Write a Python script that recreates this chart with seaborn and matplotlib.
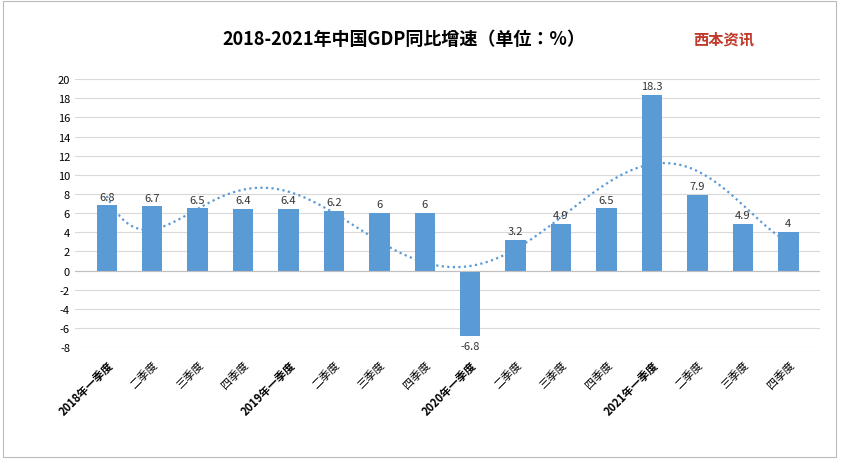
import numpy as np
import pandas as pd
import matplotlib
matplotlib.use("Agg")
import matplotlib.pyplot as plt
import seaborn as sns

plt.rcParams['font.family'] = ['Noto Sans CJK JP', 'Noto Sans CJK SC', 'DejaVu Sans']
plt.rcParams['axes.unicode_minus'] = False

labels = ["2018年一季度","二季度","三季度","四季度","2019年一季度","二季度","三季度","四季度",
          "2020年一季度","二季度","三季度","四季度","2021年一季度","二季度","三季度","四季度"]
values = [6.8,6.7,6.5,6.4,6.4,6.2,6,6,-6.8,3.2,4.9,6.5,18.3,7.9,4.9,4]
value_labels = ["6.8","6.7","6.5","6.4","6.4","6.2","6","6","-6.8","3.2","4.9","6.5","18.3","7.9","4.9","4"]

df = pd.DataFrame({"q": labels, "v": values, "i": range(len(labels))})

fig = plt.figure(figsize=(8.42, 4.6), dpi=100)
fig.patches.append(plt.Rectangle((0.003,0.005),0.99,0.99,transform=fig.transFigure,fill=False,ec="#bbbbbb",lw=0.8))
ax = fig.add_axes([0.089, 0.243, 0.885, 0.583])
sns.barplot(data=df, x="i", y="v", color="#5B9BD5", width=0.45, ax=ax, saturation=1)

x = np.arange(len(values))
coef = np.polyfit(x, values, 6)
xs = np.linspace(0, len(values)-1, 300)
ax.plot(xs, np.polyval(coef, xs), ls=(0,(1,1.5)), color="#5B9BD5", lw=1.6)

for i, (v, t) in enumerate(zip(values, value_labels)):
    ax.text(i, v + (0.4 if v >= 0 else -0.5), t, ha="center", va="bottom" if v >= 0 else "top", fontsize=8, color="#333333")

ax.set_ylim(-8, 20)
ax.set_yticks(range(-8, 21, 2))
ax.set_xlim(-0.7, len(values)-0.3)
ax.set_xticks(x)
ax.set_xticklabels(labels, rotation=45, ha="right", rotation_mode="anchor", fontsize=8)
for tl in ax.get_xticklabels():
    if "年" in tl.get_text():
        tl.set_fontweight("bold")
ax.tick_params(axis="y", labelsize=8, length=0)
ax.tick_params(axis="x", length=0, pad=8)
ax.grid(axis="y", color="#d9d9d9", lw=0.8)
ax.set_axisbelow(True)
ax.axhline(0, color="#bfbfbf", lw=0.8)
for s in ax.spines.values():
    s.set_visible(False)
ax.set_xlabel(""); ax.set_ylabel("")

fig.text(0.48, 0.915, "2018-2021年中国GDP同比增速（单位：%）", ha="center", va="center", fontsize=13, fontweight="bold")
fig.text(0.86, 0.915, "西本资讯", ha="center", va="center", fontsize=11, fontweight="bold", style="italic", color="#c0392b")

fig.savefig("out.png", dpi=100)
